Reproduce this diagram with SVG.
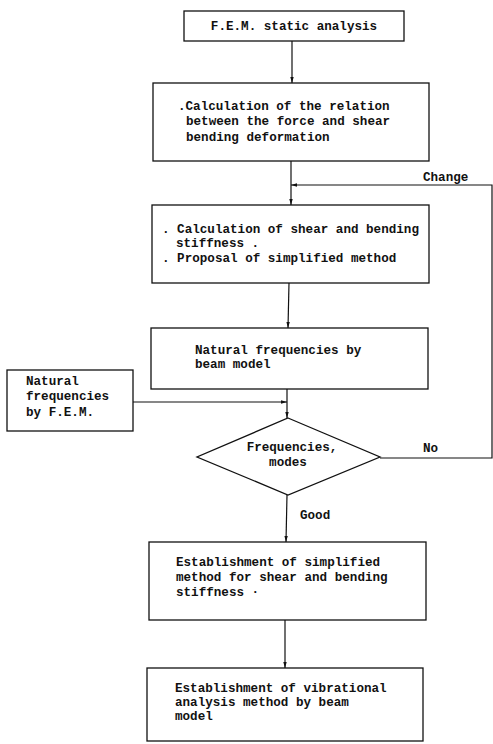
<svg xmlns="http://www.w3.org/2000/svg" width="493" height="744" viewBox="0 0 493 744">
<style>
.box{fill:#fff;stroke:#111;stroke-width:1.3}
.ln{fill:none;stroke:#111;stroke-width:1.2}
text{font-family:"Liberation Mono","DejaVu Sans Mono",monospace;font-weight:bold;font-size:12.6px;fill:#111}
</style>
<defs>
<marker id="ah" markerWidth="6" markerHeight="4" refX="6" refY="2" orient="auto" markerUnits="userSpaceOnUse">
<path d="M0,0.3 L6,2 L0,3.7 Z" fill="#111"/>
</marker>
</defs>
<rect width="493" height="744" fill="#fff"/>
<g id="connectors">
<line class="ln" x1="292" y1="41" x2="292" y2="83" marker-end="url(#ah)"/>
<line class="ln" x1="291" y1="161" x2="291" y2="205" marker-end="url(#ah)"/>
<polyline class="ln" points="380,458 492,458 492,185 291,185" marker-end="url(#ah)"/>
<line class="ln" x1="289" y1="283" x2="288" y2="328" marker-end="url(#ah)"/>
<line class="ln" x1="287" y1="389" x2="287" y2="418" marker-end="url(#ah)"/>
<line class="ln" x1="133" y1="402" x2="287" y2="402" marker-end="url(#ah)"/>
<line class="ln" x1="287" y1="495" x2="286" y2="542" marker-end="url(#ah)"/>
<line class="ln" x1="285" y1="620" x2="285" y2="668" marker-end="url(#ah)"/>
<text x="423" y="181">Change</text>
<text x="423" y="452">No</text>
<text x="300" y="519">Good</text>
</g>
<g id="n1">
<rect class="box" x="184" y="11" width="220" height="30"/>
<text x="294" y="30" text-anchor="middle">F.E.M. static analysis</text>
</g>
<g id="n2">
<rect class="box" x="153" y="83" width="276" height="78"/>
<text x="178" y="110">.Calculation of the relation</text>
<text x="186" y="125">between the force and shear</text>
<text x="186" y="141">bending deformation</text>
</g>
<g id="n3">
<rect class="box" x="152" y="205" width="277" height="78"/>
<text x="162" y="233">. Calculation of shear and bending</text>
<text x="176" y="247">stiffness .</text>
<text x="162" y="262">. Proposal of simplified method</text>
</g>
<g id="n4">
<rect class="box" x="151" y="328" width="277" height="61"/>
<text x="195" y="354">Natural frequencies by</text>
<text x="195" y="368">beam model</text>
</g>
<g id="n5">
<rect class="box" x="7" y="370" width="126" height="61"/>
<text x="26" y="385">Natural</text>
<text x="26" y="400">frequencies</text>
<text x="26" y="416">by F.E.M.</text>
</g>
<g id="n6">
<polygon class="box" points="288,418 380,457 288,495 197,457"/>
<text x="292" y="451" text-anchor="middle">Frequencies,</text>
<text x="288" y="466" text-anchor="middle">modes</text>
</g>
<g id="n7">
<rect class="box" x="149" y="542" width="277" height="78"/>
<text x="176" y="566">Establishment of simplified</text>
<text x="176" y="581">method for shear and bending</text>
<text x="176" y="596">stiffness ·</text>
</g>
<g id="n8">
<rect class="box" x="147" y="668" width="276" height="73"/>
<text x="175" y="692">Establishment of vibrational</text>
<text x="175" y="706">analysis method by beam</text>
<text x="175" y="720">model</text>
</g>
</svg>
